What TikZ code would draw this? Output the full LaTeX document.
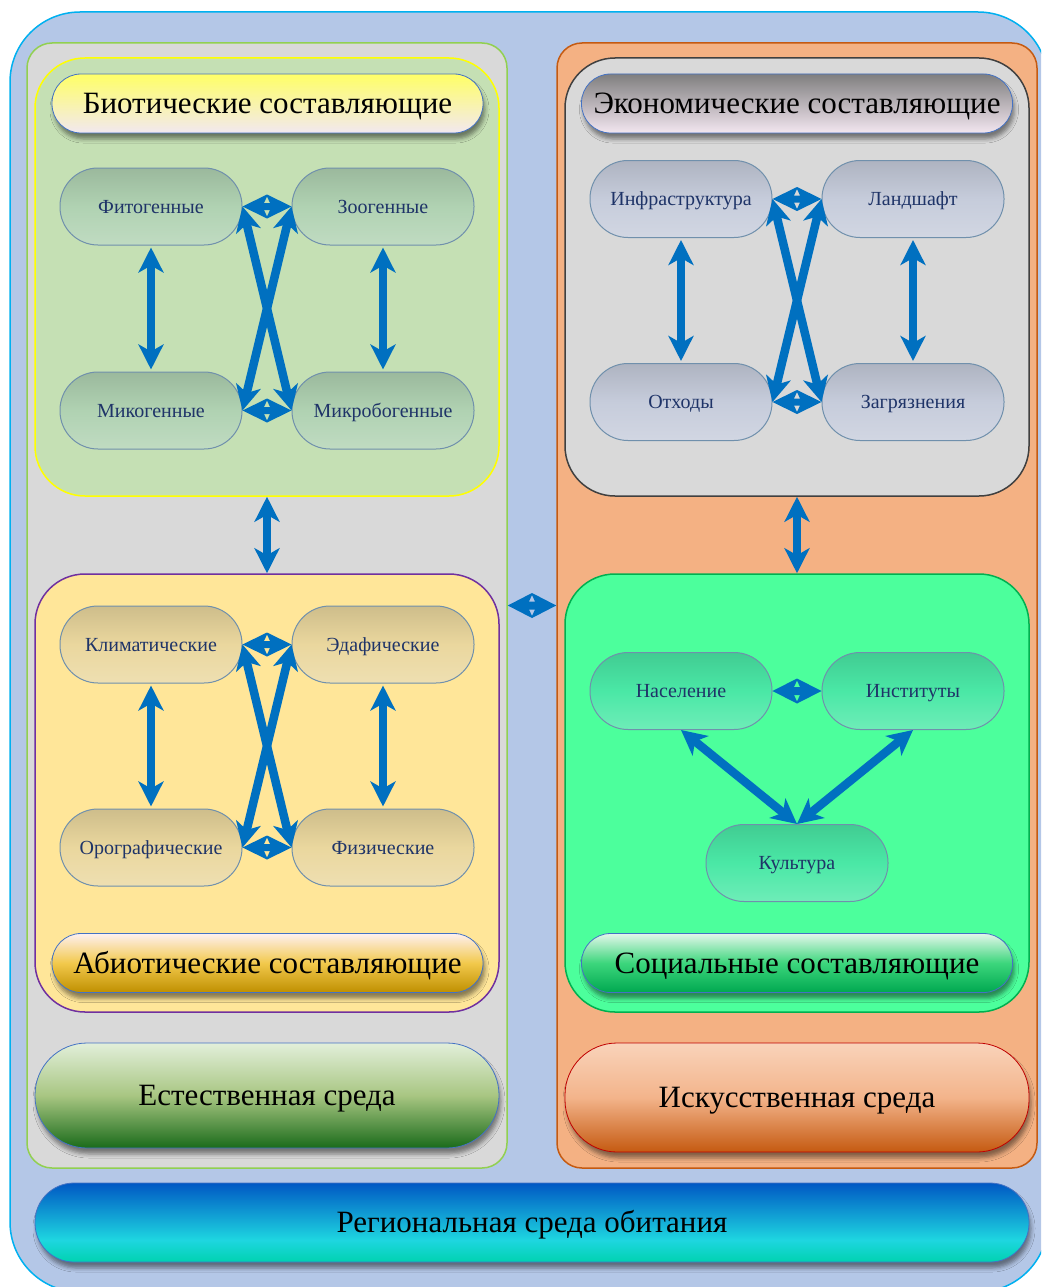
\documentclass[tikz,border=0pt]{standalone}
\usepackage{fontspec}
\setmainfont{Liberation Serif}
\usetikzlibrary{calc,arrows.meta,shadows.blur}

\definecolor{outerfill}{HTML}{B4C7E7}
\definecolor{outerline}{HTML}{00B0F0}
\definecolor{natfill}{HTML}{D9D9D9}
\definecolor{natline}{HTML}{92D050}
\definecolor{artfill}{HTML}{F4B183}
\definecolor{artline}{HTML}{C55A11}
\definecolor{biofill}{HTML}{C5E0B4}
\definecolor{bioline}{HTML}{FFFF00}
\definecolor{abiofill}{HTML}{FFE699}
\definecolor{abioline}{HTML}{7030A0}
\definecolor{econfill}{HTML}{D9D9D9}
\definecolor{econline}{HTML}{404040}
\definecolor{socfill}{HTML}{4CFF9C}
\definecolor{socline}{HTML}{00B050}
\definecolor{arrowblue}{HTML}{0070C0}
\definecolor{barblue}{HTML}{4472C4}
\definecolor{pillline}{HTML}{7090AC}
\definecolor{nodetext}{HTML}{1F3468}
\definecolor{biopill}{HTML}{B0D2B2}
\definecolor{abiopill}{HTML}{EAD79E}
\definecolor{econpill}{HTML}{C6CCDB}
\definecolor{socpill}{HTML}{4AE8A6}
\definecolor{regtop}{HTML}{0058C4}
\definecolor{regcyan}{HTML}{1ED6E0}
\definecolor{regbot}{HTML}{00D2B0}
% title bar gradients
\definecolor{biotop}{HTML}{FFFF66}
\definecolor{biobot}{HTML}{F2E8F0}
\definecolor{econtop}{HTML}{7F7F7F}
\definecolor{econbot}{HTML}{F3E6F0}
\definecolor{abiotop}{HTML}{FEF0F0}
\definecolor{abiomid}{HTML}{F2C94C}
\definecolor{abiobot}{HTML}{BF8F00}
\definecolor{soctop}{HTML}{E3F7EA}
\definecolor{socmid}{HTML}{3CD67C}
\definecolor{socbot}{HTML}{00A850}
% environment label gradients
\definecolor{nattop}{HTML}{E2EFDA}
\definecolor{natmid}{HTML}{A8C682}
\definecolor{natbot}{HTML}{1A6B1A}
\definecolor{arttop}{HTML}{F9D3BA}
\definecolor{artmid}{HTML}{F3B48B}
\definecolor{artbot}{HTML}{C55A11}
\definecolor{artlabelline}{HTML}{C00000}

% top-heavy blue-to-cyan gradient of the bottom bar
\pgfdeclareverticalshading{regional}{100bp}{color(0bp)=(regbot); color(25bp)=(regbot);
  color(39bp)=(regcyan); color(75bp)=(regtop); color(100bp)=(regtop)}

\tikzset{
  frame/.style={draw=outerline, fill=outerfill, line width=1.5pt, rounded corners=70pt},
  panel/.style={line width=1.5pt, rounded corners=25pt, inner sep=0pt,
    minimum width=480pt, minimum height=1125pt},
  group/.style={line width=1.5pt, rounded corners=50pt, inner sep=0pt,
    minimum width=464pt, minimum height=438pt},
  softshadow/.style={blur shadow={shadow xshift=2pt, shadow yshift=-6pt,
    shadow opacity=45, shadow blur radius=4pt}},
  bigtext/.style={font=\fontsize{31}{36}\selectfont, text=black,
    text height=20.5pt, text depth=0pt},
  bar/.style={draw=barblue, line width=0.8pt, rounded corners=29pt, inner sep=0pt,
    minimum width=431pt, minimum height=59pt, bigtext, softshadow},
  bigbar/.style={line width=0.8pt, rounded corners=52pt, inner sep=0pt,
    minimum width=464pt, bigtext, softshadow},
  pill/.style={rounded corners=38pt, minimum width=182pt, minimum height=77pt,
    inner sep=0pt, draw=pillline, line width=1pt, font=\fontsize{20}{24}\selectfont,
    text height=13.3pt, text depth=0pt, text=nodetext,
    top color=#1!88!black, bottom color=#1!80!white, middle color=#1},
  link/.style={draw=arrowblue, line width=8.5pt,
    {Stealth[length=25pt,width=25pt,inset=7pt]}-{Stealth[length=25pt,width=25pt,inset=7pt]}},
  vlink/.style={link, shorten <=2pt, shorten >=2pt},
}

% short two-way arrow: two heads back to back, with two small notches
\newcommand\twinhead[3]{%
  \fill[arrowblue, even odd rule]
    (#1.east) -- ($(#1.east)!.5!(#2.west)+(0,-#3)$) -- (#2.west)
      -- ($(#1.east)!.5!(#2.west)+(0,#3)$) -- cycle
    ($(#1.east)!.5!(#2.west)+(0,-#3+2)$) -- ++(-3,6.5) -- ++(6,0) -- cycle
    ($(#1.east)!.5!(#2.west)+(0,#3-2)$) -- ++(-3,-6.5) -- ++(6,0) -- cycle;}

\begin{document}
\begin{tikzpicture}[x=1pt,y=-1pt]
\useasboundingbox (0,0) rectangle (1041,1287);
\clip (0,0) rectangle (1041,1287);

% outer frame
\draw[frame] (10,12) rectangle (1048,1292);

% two environments
\node[panel, draw=natline, fill=natfill] (natpanel) at (267,605.5) {};
\node[panel, draw=artline, fill=artfill] (artpanel) at (797,605.5) {};

% component groups
\node[group, draw=bioline, fill=biofill] (bio) at (267,277) {};
\node[group, draw=abioline, fill=abiofill] (abio) at (267,793) {};
\node[group, draw=econline, fill=econfill] (econ) at (797,277) {};
\node[group, draw=socline, fill=socfill] (soc) at (797,793) {};

% group titles
\node[bar, top color=biotop, bottom color=biobot] (biotitle) at (267.5,103.5) {Биотические составляющие};
\node[bar, top color=econtop, bottom color=econbot] (econtitle) at (797,103.5) {Экономические составляющие};
\node[bar, top color=abiotop, bottom color=abiobot, middle color=abiomid] (abiotitle) at (267.5,963) {Абиотические составляющие};
\node[bar, top color=soctop, bottom color=socbot, middle color=socmid] (soctitle) at (797,963) {Социальные составляющие};

% environment labels
\node[bigbar, draw=barblue, minimum height=105pt, top color=nattop, bottom color=natbot, middle color=natmid] (natlabel) at (267,1095.5) {Естественная среда};
\node[bigbar, draw=artlabelline, minimum height=109pt, top color=arttop, bottom color=artbot, middle color=artmid] (artlabel) at (797,1097.5) {Искусственная среда};
\node[bigbar, draw=barblue, rounded corners=39pt, minimum width=994pt, minimum height=79pt, shading=regional] (region) at (532,1222.5) {Региональная среда обитания};

% biotic components
\node[pill=biopill] (fito) at (151,206.5) {Фитогенные};
\node[pill=biopill] (zoo) at (383,206.5) {Зоогенные};
\node[pill=biopill] (miko) at (151,410.5) {Микогенные};
\node[pill=biopill] (mikrob) at (383,410.5) {Микробогенные};

% abiotic components
\node[pill=abiopill] (klim) at (151,644.5) {Климатические};
\node[pill=abiopill] (edaf) at (383,644.5) {Эдафические};
\node[pill=abiopill] (orog) at (151,847.5) {Орографические};
\node[pill=abiopill] (fiz) at (383,847.5) {Физические};

% economic components
\node[pill=econpill] (infra) at (681,199) {Инфраструктура};
\node[pill=econpill] (land) at (913,199) {Ландшафт};
\node[pill=econpill] (otx) at (681,402) {Отходы};
\node[pill=econpill] (zagr) at (913,402) {Загрязнения};

% social components
\node[pill=socpill] (nas) at (681,691) {Население};
\node[pill=socpill] (inst) at (913,691) {Институты};
\node[pill=socpill] (kult) at (797,863) {Культура};

% links inside the groups
\foreach \a/\b/\c/\d in {fito/zoo/miko/mikrob, klim/edaf/orog/fiz, infra/land/otx/zagr}{
  \draw[vlink] (\a.south) -- (\c.north);
  \draw[vlink] (\b.south) -- (\d.north);
  \draw[link] (\a.east) -- (\d.west);
  \draw[link] (\b.west) -- (\c.east);
  \twinhead{\a}{\b}{12}
  \twinhead{\c}{\d}{12}
}
\draw[link] (nas.south) -- (kult.north);
\draw[link] (inst.south) -- (kult.north);
\twinhead{nas}{inst}{12.5}

% links between groups and environments
\draw[link] (bio.south) -- (abio.north);
\draw[link] (econ.south) -- (soc.north);
\twinhead{natpanel}{artpanel}{12.5}
\end{tikzpicture}
\end{document}
